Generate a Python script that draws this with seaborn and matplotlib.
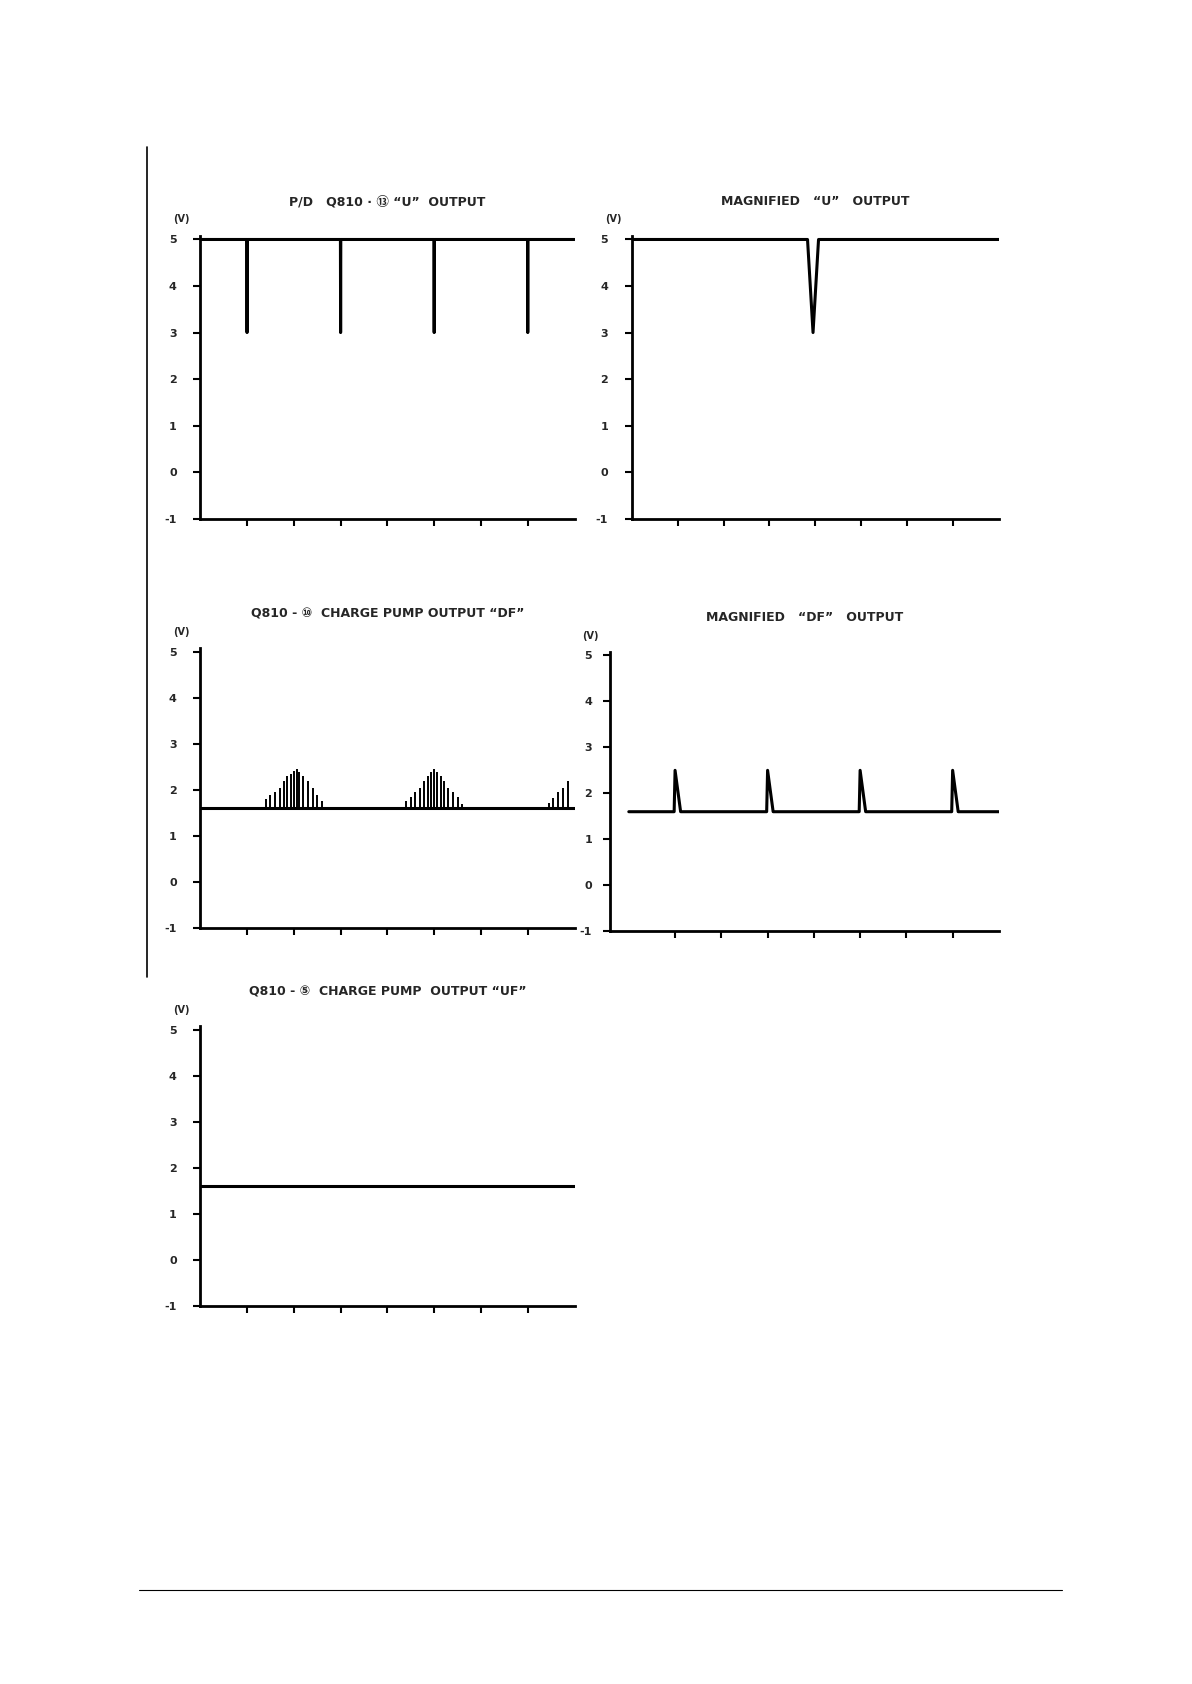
import numpy as np
import pandas as pd
import matplotlib
matplotlib.use("Agg")
import matplotlib.pyplot as plt
import seaborn as sns
from matplotlib.lines import Line2D

sns.set_style("white")
plt.rcParams['font.family'] = ['DejaVu Sans', 'Noto Sans CJK JP']

# --- data ---
y_ticks = [-1, 0, 1, 2, 3, 4, 5]
x_ticks = [1, 2, 3, 4, 5, 6, 7]

u_high = 5.0
u_low = 3.0
u_spikes = [1.0, 3.0, 5.0, 7.0]          # narrow drops, P/D "U" output
mag_u_dip = 3.95                          # magnified dip position
mag_u_width = 0.12

df_base = 1.6
# burst spikes of "DF" charge pump output (position, peak)
df_burst_x = [1.40, 1.50, 1.60, 1.70, 1.78, 1.86, 1.94, 2.00, 2.06, 2.12, 2.20, 2.30, 2.40, 2.50, 2.60,
              4.40, 4.50, 4.60, 4.70, 4.78, 4.86, 4.94, 5.00, 5.06, 5.14, 5.22, 5.30, 5.40, 5.50, 5.60,
              7.45, 7.55, 7.65, 7.75, 7.87]
df_burst_y = [1.80, 1.90, 1.95, 2.05, 2.20, 2.30, 2.35, 2.42, 2.45, 2.40, 2.30, 2.20, 2.05, 1.90, 1.75,
              1.75, 1.85, 1.95, 2.05, 2.20, 2.30, 2.38, 2.45, 2.40, 2.30, 2.20, 2.05, 1.95, 1.85, 1.70,
              1.72, 1.82, 1.95, 2.05, 2.20]
mag_df_spikes = [1.0, 3.0, 5.0, 7.0]
mag_df_peak = 2.5
uf_level = 1.6


def u_trace(spikes, w):
    xs, ys = [0.0], [u_high]
    for s in spikes:
        xs += [s - w, s, s + w]
        ys += [u_high, u_low, u_high]
    xs.append(8.0); ys.append(u_high)
    return pd.DataFrame({"t": xs, "v": ys})


def df_trace(spikes):
    xs, ys = [0.0], [df_base]
    for s in spikes:
        xs += [s - 0.02, s, s + 0.12]
        ys += [df_base, mag_df_peak, df_base]
    xs.append(8.0); ys.append(df_base)
    return pd.DataFrame({"t": xs, "v": ys})


def style(ax, title, xlim=(0, 8), pad=12):
    ax.set_xlim(*xlim)
    ax.set_ylim(-1, 5.08)
    ax.set_yticks(y_ticks)
    ax.set_yticklabels([str(v) for v in y_ticks], fontsize=8, fontweight='bold')
    ax.set_xticks(x_ticks)
    ax.set_xticklabels([])
    ax.tick_params(axis='both', direction='out', length=5, width=1.5, color='black', pad=pad,
                   bottom=True, left=True)
    sns.despine(ax=ax)
    for sp in ['left', 'bottom']:
        ax.spines[sp].set_linewidth(2)
        ax.spines[sp].set_color('black')
    ax.set_xlabel(""); ax.set_ylabel("")
    ax.text(-0.05, 1.04, "(V)", transform=ax.transAxes, fontsize=7, fontweight='bold',
            ha='center', va='bottom')
    ax.set_title(title, fontsize=9, fontweight='bold', pad=22)


fig = plt.figure(figsize=(11.92, 16.84), dpi=100)
ax1 = fig.add_axes([0.168, 0.692, 0.314, 0.168])
ax2 = fig.add_axes([0.530, 0.692, 0.308, 0.168])
ax3 = fig.add_axes([0.168, 0.449, 0.314, 0.166])
ax4 = fig.add_axes([0.512, 0.447, 0.326, 0.166])
ax5 = fig.add_axes([0.168, 0.2245, 0.314, 0.166])

sns.lineplot(data=u_trace(u_spikes, 0.004), x="t", y="v", ax=ax1, color='black', lw=2.2)
style(ax1, "P/D   Q810 · \u246c \u201cU\u201d  OUTPUT")

sns.lineplot(data=u_trace([mag_u_dip], mag_u_width), x="t", y="v", ax=ax2, color='black', lw=2.2)
style(ax2, "MAGNIFIED   \u201cU\u201d   OUTPUT")

sns.lineplot(data=pd.DataFrame({"t": [0, 8], "v": [df_base, df_base]}), x="t", y="v",
             ax=ax3, color='black', lw=2.2)
ax3.vlines(df_burst_x, df_base, df_burst_y, color='black', lw=1.4)
style(ax3, "Q810 - \u2469  CHARGE PUMP OUTPUT \u201cDF\u201d")

sns.lineplot(data=df_trace(mag_df_spikes), x="t", y="v", ax=ax4, color='black', lw=2.2)
style(ax4, "MAGNIFIED   \u201cDF\u201d   OUTPUT", xlim=(-0.4, 8), pad=8)

sns.lineplot(data=pd.DataFrame({"t": [0, 8], "v": [uf_level, uf_level]}), x="t", y="v",
             ax=ax5, color='black', lw=2.2)
style(ax5, "Q810 - \u2464  CHARGE PUMP  OUTPUT \u201cUF\u201d")

# page furniture of the scan
fig.lines.append(Line2D([0.123, 0.123], [0.42, 0.913], color='black', lw=1.2, transform=fig.transFigure))
fig.lines.append(Line2D([0.117, 0.891], [0.056, 0.056], color='black', lw=0.8, transform=fig.transFigure))

fig.savefig("out.png", dpi=100, facecolor='white')
